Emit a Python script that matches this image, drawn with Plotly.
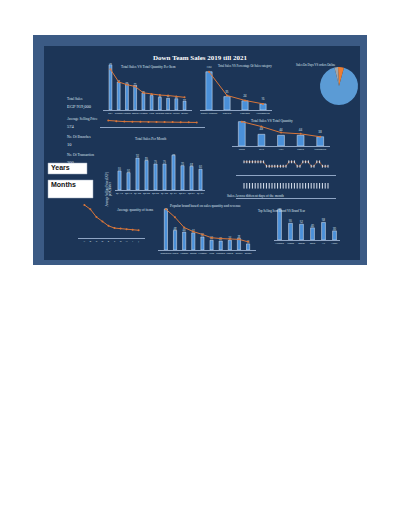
import plotly.graph_objects as go

# page body has an 8px margin, so the figure is drawn 8px in from the corner
OFF = 8
W, H = 384, 502

# data read from the dashboard (approximate)
items = ["S21", "iPhone", "Xiaomi", "Oppo", "Huawei", "Vivo", "Realme", "Nokia", "Infinix", "Other"]
item_sales = [100, 62, 58, 55, 38, 32, 28, 26, 25, 20]
item_qty = [90, 62, 56, 52, 38, 35, 33, 32, 30, 28]

cats = ["Smart Phones", "Tablets", "Laptops", "Accessories"]
cat_sales = [100, 35, 24, 16]
cat_pct = [100, 38, 25, 16]

pie_labels = ["Cash", "Credit", "Online"]
pie_vals = [92, 5, 3]

months = ["Jan", "Feb", "Mar", "Apr", "May", "Jun", "Jul", "Aug", "Sep", "Oct", "Nov", "Dec"]
month_sales = [60, 52, 50, 49, 48, 47, 46, 45, 45, 44, 43, 42]

branches = ["Cairo", "Giza", "Alex", "Tanta", "Mansoura"]
branch_sales = [100, 48, 44, 44, 38]
branch_qty = [100, 80, 55, 50, 38]

quarters = ["Q1 19", "Q2 19", "Q1 20", "Q2 20", "Q3 20", "Q4 20", "Q1 21", "Q2 21", "Q3 21", "Q4 21"]
quarter_sales = [55, 50, 92, 85, 75, 75, 100, 70, 68, 60]

avg_items = ["A", "B", "C", "D", "E", "F", "G", "H", "I", "J"]
avg_qty = [60, 52, 38, 30, 22, 18, 17, 16, 15, 14]

brands = ["Samsung", "Apple", "Xiaomi", "Oppo", "Huawei", "Vivo", "Realme", "Nokia", "Infinix", "Other"]
brand_sales = [100, 48, 44, 42, 32, 24, 22, 24, 28, 15]
brand_trend = [100, 80, 55, 45, 38, 30, 28, 27, 26, 20]

sellers = ["Ahmed", "Mona", "Omar", "Sara", "Ali", "Hany"]
seller_sales = [100, 55, 52, 40, 58, 30]

days = list(range(1, 32))
day_row1 = [3, 3, 3, 3, 3, 3, 3, 3, 2, 2, 2, 2, 2, 2, 2, 2, 3, 3, 3, 2, 2, 3, 3, 3, 2, 2, 3, 3, 2, 2, 2]

BAR = "#4a90d9"
LINE = "#d9763a"
TXT = "#dfe7f2"

fig = go.Figure()
lay = {}
n = [0]


def px(x):
    return (x - OFF) / W


def py(y):
    return 1 - (y - OFF) / H


def box(x0, x1, y0, y1, cats_axis=True):
    n[0] += 1
    k = "" if n[0] == 1 else str(n[0])
    lay["xaxis" + k] = dict(domain=[px(x0), px(x1)], showgrid=False, zeroline=False,
                            showline=True, linecolor="#8fa5c4", linewidth=0.5, tickangle=0,
                            tickfont=dict(size=2.5, color=TXT), anchor="y" + k,
                            showticklabels=cats_axis, ticks="")
    lay["yaxis" + k] = dict(domain=[py(y1), py(y0)], visible=False,
                            anchor="x" + k, rangemode="tozero")
    return "x" + k, "y" + k


def bar_line(x0, x1, y0, y1, xs, bars, line):
    xa, ya = box(x0, x1, y0, y1)
    fig.add_trace(go.Bar(x=xs, y=bars, marker_color=BAR, width=0.35, xaxis=xa, yaxis=ya,
                         text=bars, textposition="outside", textfont=dict(size=3, color=TXT)))
    if line is not None:
        fig.add_trace(go.Scatter(x=xs, y=line, mode="lines+markers", line=dict(color=LINE, width=1),
                                 marker=dict(size=2, color=LINE), xaxis=xa, yaxis=ya))
    lay["yaxis" + ya[1:]]["range"] = [0, max(bars) * 1.15]


# panel background
shapes = [
    dict(type="rect", xref="paper", yref="paper", x0=px(33), x1=px(367), y0=py(265), y1=py(35),
         fillcolor="#3b5a84", line_width=0, layer="below"),
    dict(type="rect", xref="paper", yref="paper", x0=px(44), x1=px(360), y0=py(260), y1=py(46),
         fillcolor="#1c3557", line_width=0, layer="below"),
]

bar_line(103, 192, 58, 110, items, item_sales, item_qty)
bar_line(200, 272, 66, 110, cats, cat_sales, cat_pct)
xa, ya = box(100, 205, 117, 127, cats_axis=False)
fig.add_trace(go.Scatter(x=months, y=month_sales, mode="lines+markers", line=dict(color=LINE, width=1),
                         marker=dict(size=2), xaxis=xa, yaxis=ya))
bar_line(232, 330, 118, 146, branches, branch_sales, branch_qty)
bar_line(115, 205, 150, 190, quarters, quarter_sales, None)
xa, ya = box(78, 145, 200, 238)
fig.add_trace(go.Scatter(x=avg_items, y=avg_qty, mode="lines+markers", line=dict(color=LINE, width=1),
                         marker=dict(size=2), xaxis=xa, yaxis=ya))
bar_line(158, 256, 203, 250, brands, brand_sales, brand_trend)
bar_line(274, 340, 205, 240, sellers, seller_sales, None)
# sales across days of the month
xa, ya = box(236, 336, 158, 175, cats_axis=False)
fig.add_trace(go.Scatter(x=days, y=day_row1, mode="lines+markers", line=dict(color=LINE, width=0.6),
                         marker=dict(size=2, color=TXT, symbol="line-ns-open"), xaxis=xa, yaxis=ya))
xa, ya = box(236, 336, 182, 198, cats_axis=False)
fig.add_trace(go.Scatter(x=days, y=[1] * len(days), mode="markers",
                         marker=dict(size=4, color=TXT, symbol="line-ns-open"), xaxis=xa, yaxis=ya))

fig.add_trace(go.Pie(labels=pie_labels, values=pie_vals, domain=dict(x=[px(320), px(358)], y=[py(105), py(67)]),
                     marker=dict(colors=["#5b9bd5", "#ed7d31", "#a5a5a5"]), textinfo="none", sort=False,
                     rotation=15, showlegend=False))

ann = []


def t(x, y, s, size=3.5, color=TXT, **kw):
    ann.append(dict(x=px(x), y=py(y), xref="paper", yref="paper", text=s, showarrow=False,
                    font=dict(size=size, color=color, family="Liberation Serif"), **kw))


t(200, 52, "<b>Down Team Sales 2019 till 2021</b>", 7, "#ffffff")
t(148, 63, "Total Sales VS Total Quantity Per Item")
t(245, 62, "Total Sales VS Percentage Of Sales category", 3)
t(338, 61, "Sales On Days VS orders Online", 3)
t(150, 135, "Total Sales Per Month")
t(295, 117, "Total Sales VS Total Quantity")
t(286, 196, "Sales Across different days of the month")
t(115, 210, "Average quantity of items")
t(205, 206, "Popular brand based on sales quantity and revenue")
t(307, 211, "Top Selling Item Brand VS Brand Year", 3)
t(65, 95, "Total Sales", 3.5)
t(65, 102, "EGP 919,000", 4.5)
t(65, 115, "Average Selling Price", 3.5)
t(65, 122, "574", 4.5)
t(65, 133, "No. Of Branches", 3.5)
t(65, 140, "10", 4.5)
t(65, 151, "No. Of Transaction", 3.5)
t(65, 158, "200", 4.5)
t(103, 170, "Average Selling Price (EGP)<br>per Quarter", 3, textangle=-90)

shapes += [
    dict(type="rect", xref="paper", yref="paper", x0=px(48), x1=px(87), y0=py(174), y1=py(163),
         fillcolor="#ffffff", line=dict(color="#9aa9bd", width=0.5)),
    dict(type="rect", xref="paper", yref="paper", x0=px(48), x1=px(93), y0=py(198), y1=py(180),
         fillcolor="#ffffff", line=dict(color="#9aa9bd", width=0.5)),
]
ann.append(dict(x=px(49), y=py(162), xref="paper", yref="paper", xanchor="left", yanchor="top",
                text="<b>Years</b>", showarrow=False, font=dict(size=7, color="#111111", family="Liberation Sans")))
ann.append(dict(x=px(49), y=py(179), xref="paper", yref="paper", xanchor="left", yanchor="top",
                text="<b>Months</b>", showarrow=False, font=dict(size=7, color="#111111", family="Liberation Sans")))

fig.update_layout(width=W, height=H, margin=dict(l=0, r=0, t=0, b=0), paper_bgcolor="#ffffff",
                  plot_bgcolor="rgba(0,0,0,0)", showlegend=False, shapes=shapes, annotations=ann,
                  bargap=0.4, **lay)
fig.write_html("out.html")
